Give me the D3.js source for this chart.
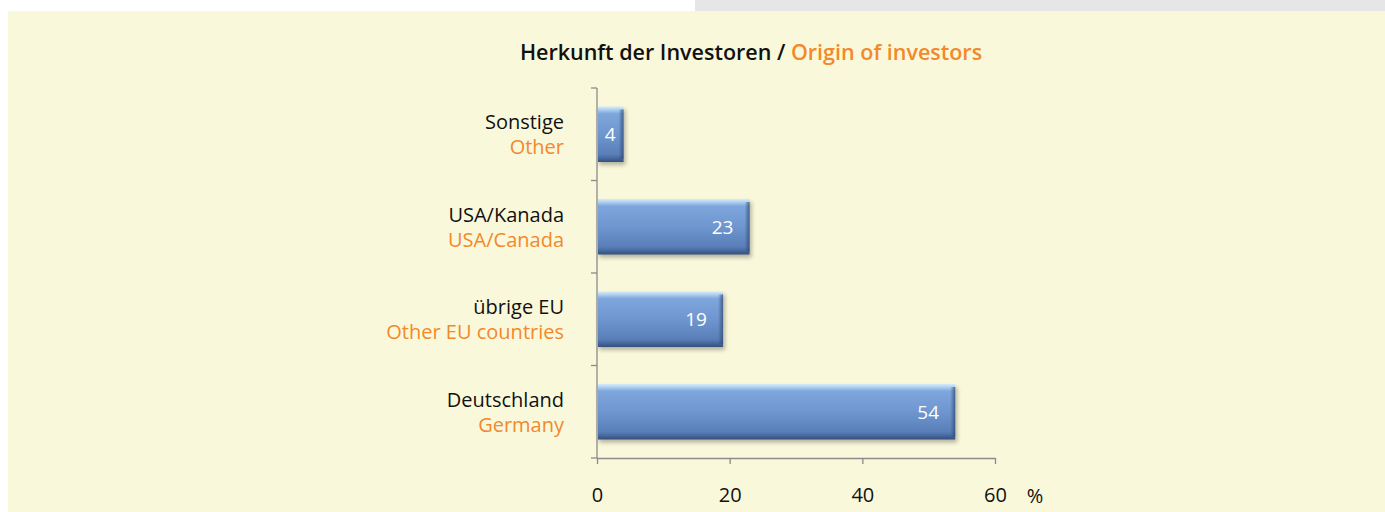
<!DOCTYPE html>
<html>
<head>
<meta charset="utf-8">
<script src="https://cdn.jsdelivr.net/npm/d3@7"></script>
<style>
  body { margin: 0; background: #fff; }
  svg { display: block; }
</style>
</head>
<body>
<div id="app"></div>
<script>
'use strict'

// data (top to bottom)
const categoriesDe = ['Sonstige', 'USA/Kanada', 'übrige EU', 'Deutschland']
const categoriesEn = ['Other', 'USA/Canada', 'Other EU countries', 'Germany']
const values = [4, 23, 19, 54]
const xTicks = [0, 20, 40, 60]

const W = 1385, H = 512
const margin = { top: 88, left: 597 }
const orange = '#F2892B'
const font = '"Open Sans", Lato, sans-serif'
const fs = '20px'

const svg = d3.select('#app').append('svg')
  .attr('width', W).attr('height', H)

// background pieces
svg.append('rect').attr('x', 695).attr('y', 0).attr('width', W - 695).attr('height', 11).attr('fill', '#E6E6E6')
svg.append('rect').attr('x', 8).attr('y', 11).attr('width', W - 8).attr('height', H - 11).attr('fill', '#FAF8DB')

const defs = svg.append('defs')
const grad = defs.append('linearGradient').attr('id', 'barGrad')
  .attr('x1', 0).attr('y1', 0).attr('x2', 0).attr('y2', 1)
;[[0, '#d6ecfb'], [0.05, '#b3d3f1'], [0.13, '#7ea6dc'], [0.5, '#6f96cf'], [0.86, '#5a7fb8'], [0.93, '#46699f'], [1, '#364f78']]
  .forEach(([o, c]) => grad.append('stop').attr('offset', o).attr('stop-color', c))
const edge = defs.append('linearGradient').attr('id', 'edgeGrad')
  .attr('x1', 0).attr('y1', 0).attr('x2', 1).attr('y2', 0)
edge.append('stop').attr('offset', 0).attr('stop-color', '#2f4a73').attr('stop-opacity', 0)
edge.append('stop').attr('offset', 1).attr('stop-color', '#2f4a73').attr('stop-opacity', 0.75)
defs.append('filter').attr('id', 'shadow').attr('x', '-20%').attr('y', '-50%').attr('width', '140%').attr('height', '200%')
  .append('feGaussianBlur').attr('stdDeviation', 2)

const x = d3.scaleLinear().domain([0, 60]).range([0, 398])
const y = d3.scaleBand().domain(categoriesDe).range([0, 370]).paddingInner(0.4).paddingOuter(0.2)
const yTicks = d3.scaleBand().domain(categoriesDe).range([0, 370])

const g = svg.append('g').attr('transform', `translate(${margin.left},${margin.top})`)

// title
const title = svg.append('text')
  .attr('x', 751).attr('y', 60)
  .attr('text-anchor', 'middle')
  .style('font-family', font).style('font-weight', 600).style('font-size', '21.5px')
title.append('tspan').attr('fill', '#111').text('Herkunft der Investoren / ')
title.append('tspan').attr('fill', orange).text('Origin of investors')

// bars
const rows = values.map((v, i) => ({ de: categoriesDe[i], en: categoriesEn[i], v }))

g.selectAll('.shadow').data(rows).enter().append('rect')
  .attr('x', 2).attr('y', d => y(d.de) + 3)
  .attr('width', d => x(d.v)).attr('height', y.bandwidth())
  .attr('fill', '#000').attr('opacity', 0.28).attr('filter', 'url(#shadow)')

g.selectAll('.bar').data(rows).enter().append('rect')
  .attr('x', 1).attr('y', d => y(d.de))
  .attr('width', d => x(d.v) - 1).attr('height', y.bandwidth())
  .attr('fill', 'url(#barGrad)')

g.selectAll('.edge').data(rows).enter().append('rect')
  .attr('x', d => x(d.v) - 5).attr('y', d => y(d.de) + 3)
  .attr('width', 5).attr('height', y.bandwidth() - 6)
  .attr('fill', 'url(#edgeGrad)')

g.selectAll('.val').data(rows).enter().append('text')
  .attr('x', d => Math.max(x(d.v) - 27, x(d.v) / 2))
  .attr('y', d => y(d.de) + y.bandwidth() / 2 + 7)
  .attr('text-anchor', 'middle')
  .attr('fill', '#fff')
  .style('font-family', font).style('font-size', '19px')
  .text(d => d.v)

// category labels, German above English
g.selectAll('.labDe').data(rows).enter().append('text')
  .attr('x', -33).attr('y', d => y(d.de) + y.bandwidth() / 2 - 5)
  .attr('text-anchor', 'end').attr('fill', '#111')
  .style('font-family', font).style('font-size', fs)
  .text(d => d.de)
g.selectAll('.labEn').data(rows).enter().append('text')
  .attr('x', -33).attr('y', d => y(d.de) + y.bandwidth() / 2 + 20)
  .attr('text-anchor', 'end').attr('fill', orange)
  .style('font-family', font).style('font-size', fs)
  .text(d => d.en)

// axes
const axisColor = '#8a8a8a'
g.append('line').attr('x1', 0).attr('x2', 0).attr('y1', 0).attr('y2', 370)
  .attr('stroke', axisColor).attr('stroke-width', 1.3)
g.selectAll('.ytick').data([0].concat(categoriesDe.map(c => yTicks(c) + yTicks.bandwidth()))).enter().append('line')
  .attr('x1', -6).attr('x2', 0).attr('y1', d => d).attr('y2', d => d)
  .attr('stroke', axisColor).attr('stroke-width', 1.3)

const xAxis = g.append('g').attr('transform', 'translate(0,370)')
  .call(d3.axisBottom(x).tickValues(xTicks).tickSize(6).tickPadding(24).tickSizeOuter(0))
xAxis.select('.domain').attr('stroke', axisColor).attr('stroke-width', 1.3)
xAxis.selectAll('.tick line').attr('stroke', axisColor).attr('stroke-width', 1.3)
xAxis.selectAll('.tick text').attr('fill', '#111')
  .style('font-family', font).style('font-size', fs)

g.append('text').attr('x', x(60) + 40).attr('y', 370 + 45)
  .attr('text-anchor', 'middle').attr('fill', '#111')
  .style('font-family', font).style('font-size', fs)
  .text('%')
</script>
</body>
</html>
